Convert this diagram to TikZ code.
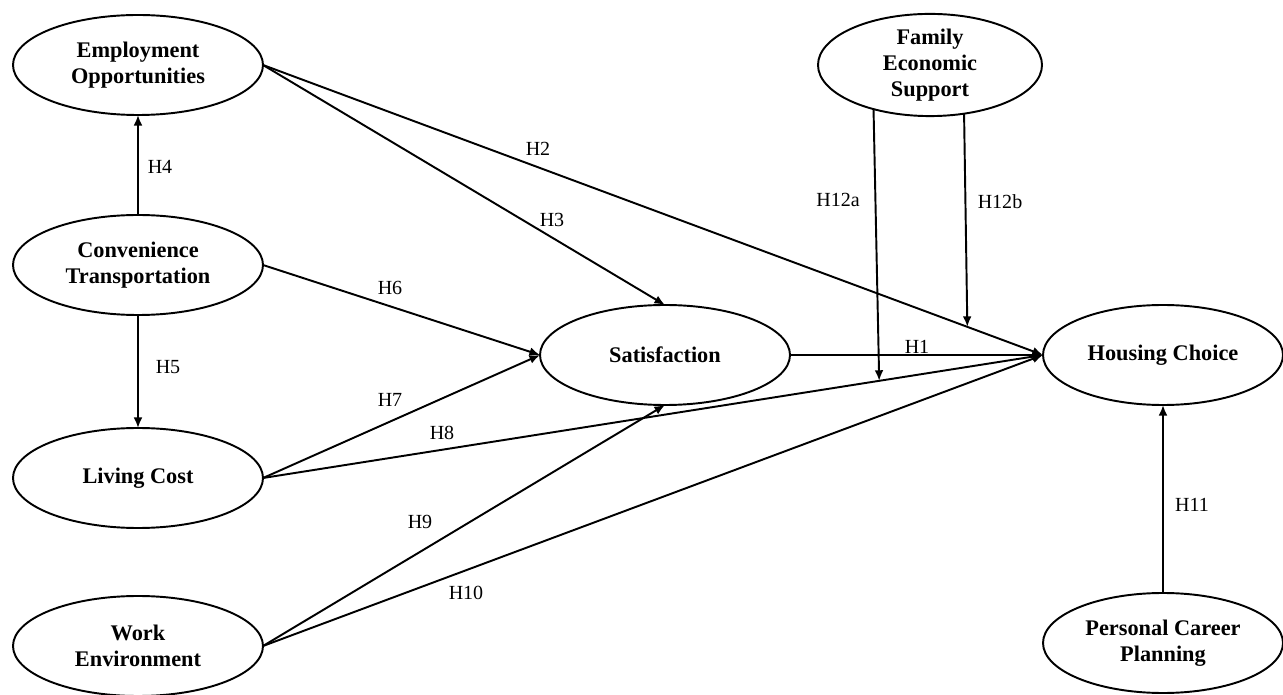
\documentclass[tikz,border=0pt]{standalone}
\usepackage{fontspec}
\setmainfont{Liberation Serif}
\usepackage{tikz}
\usetikzlibrary{calc, shapes, arrows.meta}

\tikzset{
  var/.style={ellipse, draw, line width=1.1pt, minimum width=5cm, minimum height=2cm,
    inner sep=0pt, outer sep=0pt, align=center,
    font=\bfseries\fontsize{12.7}{14.8}\selectfont},
  hyp/.style={font=\fontsize{11.4}{13}\selectfont, inner sep=1pt},
  arr/.style={-{Latex[length=6pt,width=5pt]}, line width=1.1pt}
}

\begin{document}
\begin{tikzpicture}
                    \useasboundingbox (0, 0) rectangle (25.66, 13.88);
                    \node[var] (emp) at (2.76, 12.58) {Employment\\Opportunities};
                    \node[var] (con) at (2.76, 8.58) {Convenience\\Transportation};
                    \node[var] (liv) at (2.76, 4.32) {Living Cost};
                    \node[var] (work) at (2.76, 0.96) {Work\\Environment};
                    \node[var] (sat) at (13.30, 6.78) {Satisfaction};
                    \node[var, minimum width=4.8cm] (hou) at (23.26, 6.78) {Housing Choice};
                    \node[var, minimum width=4.48cm] (fam) at (18.60, 12.58) {Family\\Economic\\Support};
                    \node[var, minimum width=4.8cm] (per) at (23.26, 1.02) {Personal Career\\Planning};
                    % moderation targets on H8 and H2
                    \coordinate (m8) at ($(liv.east)!0.79!(hou.west)$);
                    \coordinate (m2) at ($(emp.east)!0.903!(hou.west)$);
                    \draw[arr] (sat.east) -- (hou.west);
                    \draw[arr] (emp.east) -- (hou.west);
                    \draw[arr] (emp.east) -- (sat.north);
                    \draw[arr] (con.north) -- (emp.south);
                    \draw[arr] (con.south) -- (liv.north);
                    \draw[arr] (con.east) -- (sat.west);
                    \draw[arr] (liv.east) -- (sat.west);
                    \draw[arr] (liv.east) -- (hou.west);
                    \draw[arr] (work.east) -- (sat.south);
                    \draw[arr] (work.east) -- (hou.west);
                    \draw[arr] (per.north) -- (hou.south);
                    \draw[arr] (fam.-142.3) -- (m8);
                    \draw[arr] (fam.-55.4) -- (m2);
                    \node[hyp] (h1) at (18.34, 6.94) {H1};
                    \node[hyp] (h2) at (10.76, 10.90) {H2};
                    \node[hyp] (h3) at (11.04, 9.48) {H3};
                    \node[hyp] (h4) at (3.20, 10.54) {H4};
                    \node[hyp] (h5) at (3.36, 6.54) {H5};
                    \node[hyp] (h6) at (7.80, 8.12) {H6};
                    \node[hyp] (h7) at (7.80, 5.88) {H7};
                    \node[hyp] (h8) at (8.84, 5.22) {H8};
                    \node[hyp] (h9) at (8.40, 3.44) {H9};
                    \node[hyp] (h10) at (9.32, 2.02) {H10};
                    \node[hyp] (h11) at (23.84, 3.78) {H11};
                    \node[hyp] (h12a) at (16.76, 9.88) {H12a};
                    \node[hyp] (h12b) at (20.00, 9.84) {H12b};
\end{tikzpicture}
\end{document}
